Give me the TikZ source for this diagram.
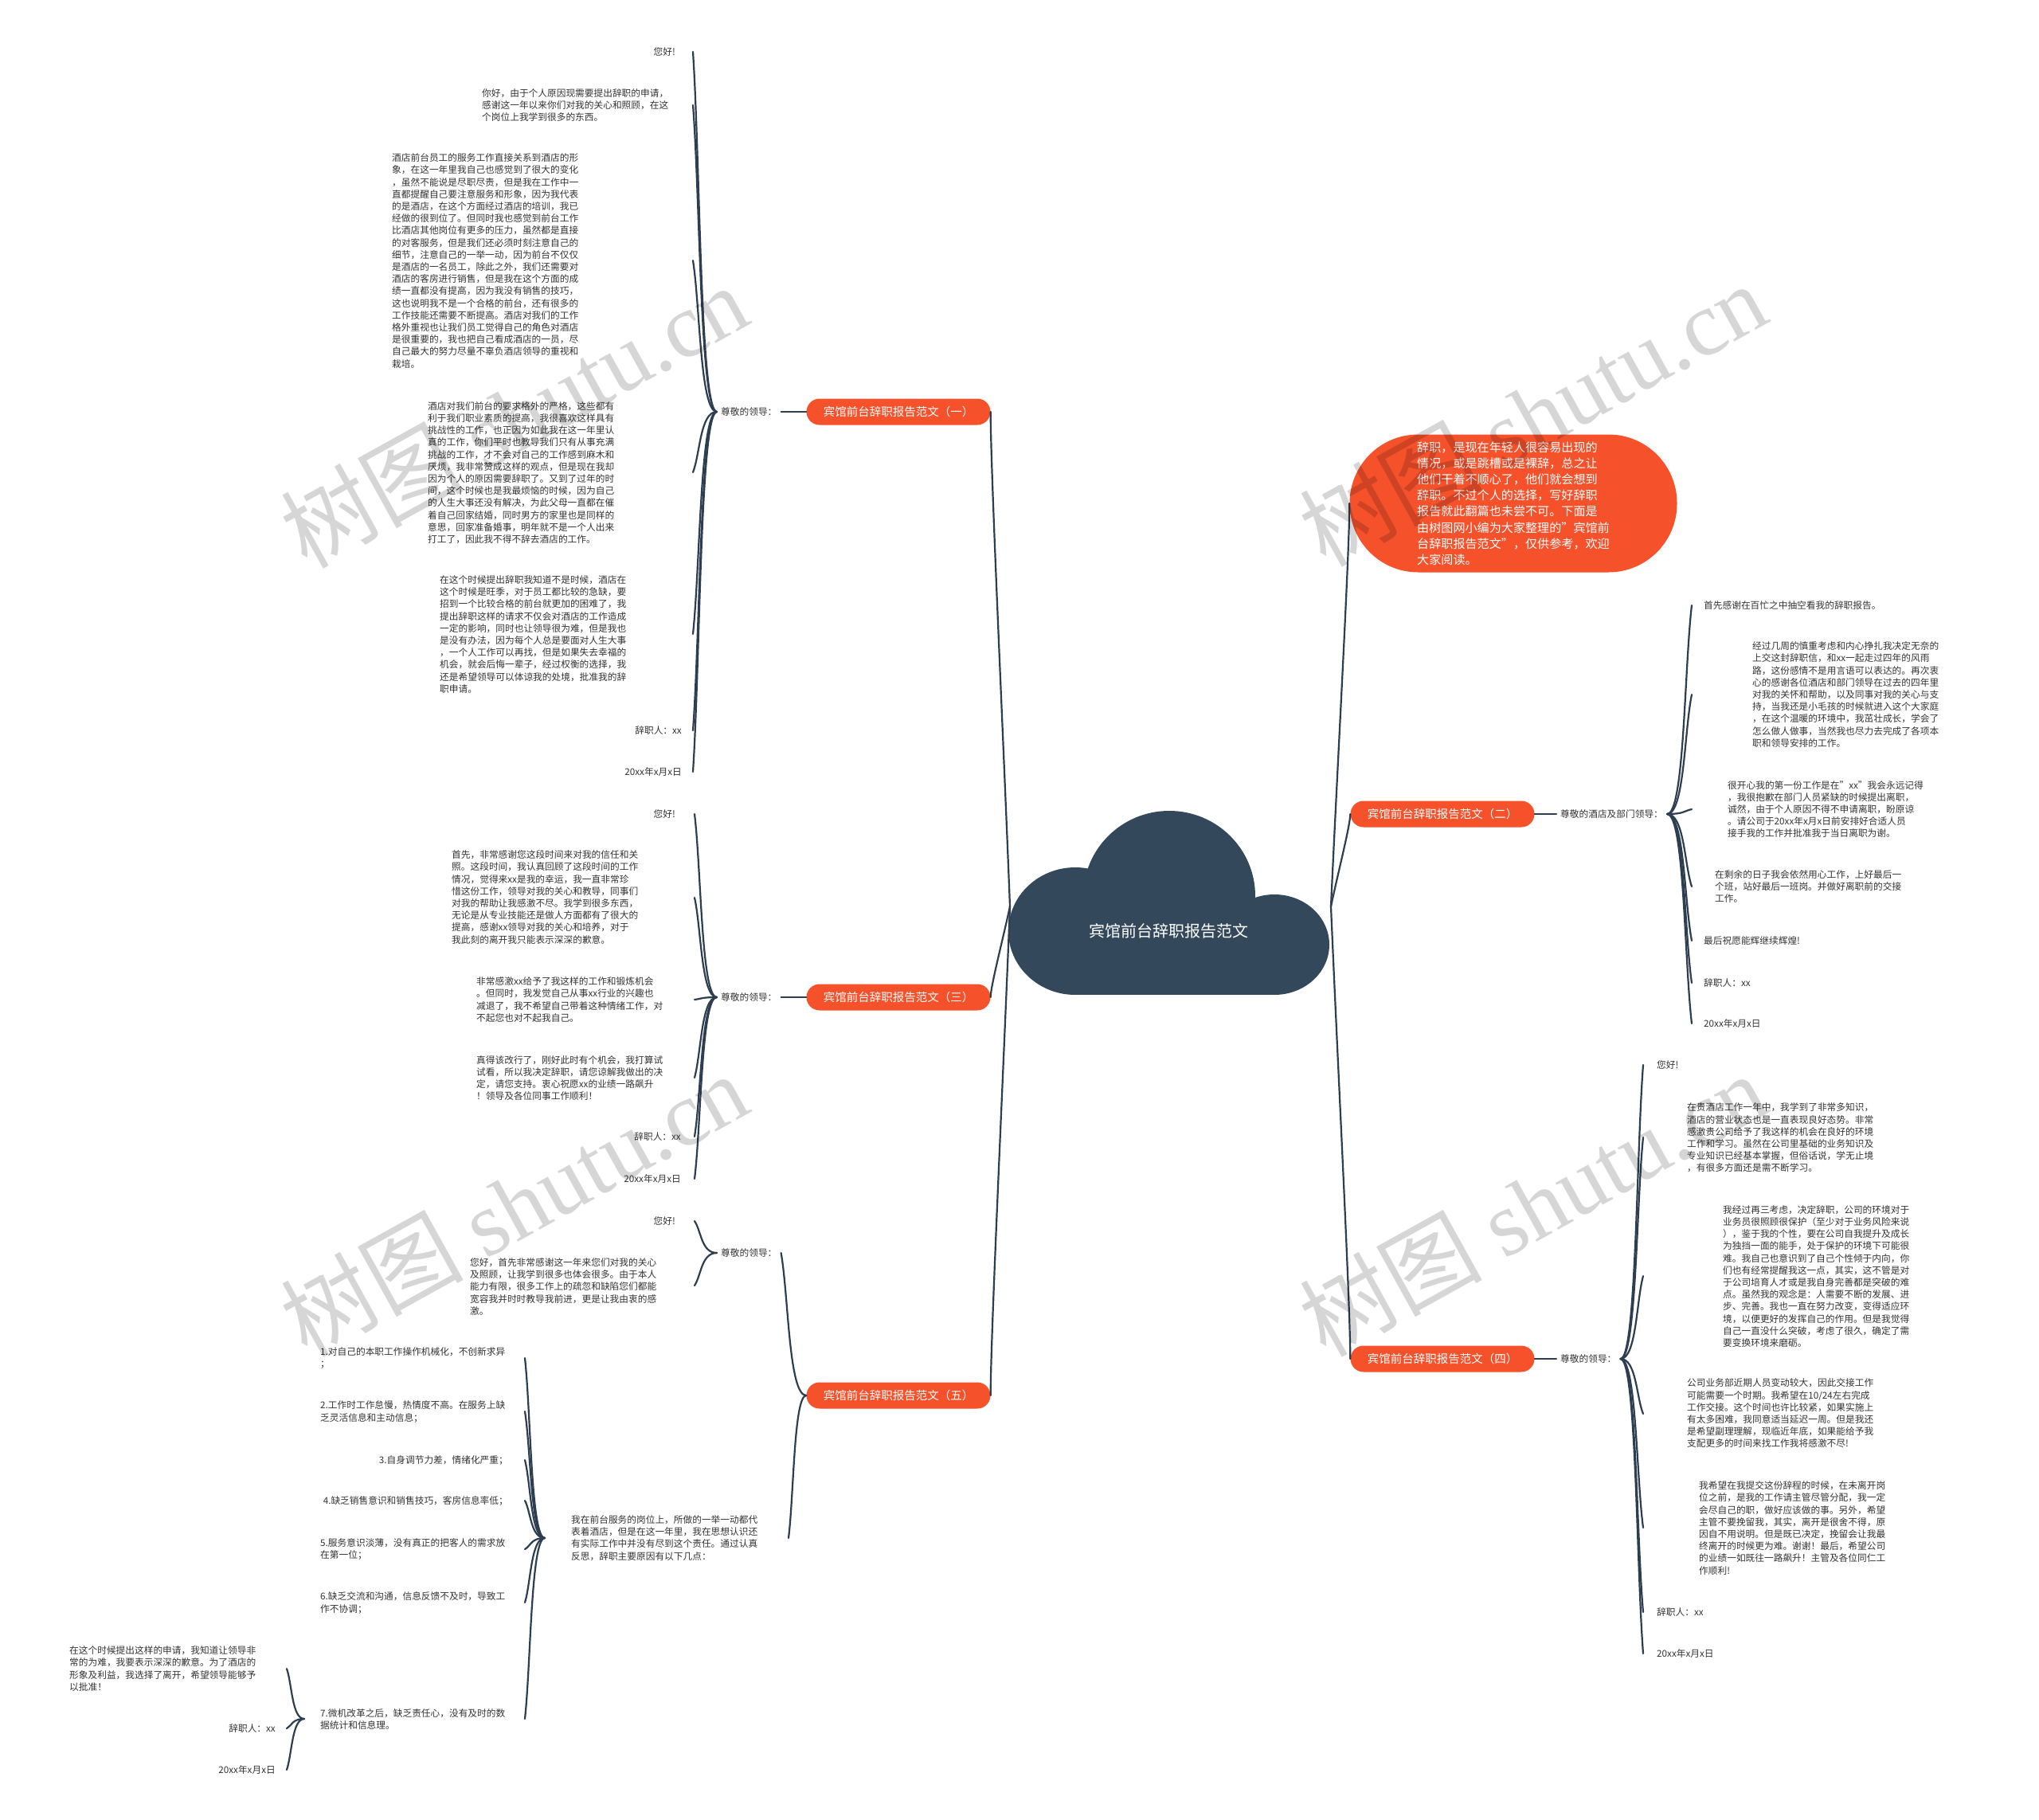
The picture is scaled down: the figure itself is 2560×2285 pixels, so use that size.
\documentclass[tikz,border=0pt]{standalone}
\usepackage{fontspec}
\setmainfont{Noto Sans CJK SC}
\newfontfamily\wmserif{Liberation Serif}
\usetikzlibrary{calc}
\definecolor{orng}{HTML}{F5512B}
\definecolor{cloudc}{HTML}{34485C}
\definecolor{linec}{HTML}{2C3E50}
\definecolor{txtc}{HTML}{333333}
\newcommand\mmlink[2]{\draw[conn] (#1) .. controls ($(#1)!0.7!(#2|-#1)$) and ($(#2)!0.3!(#1)$) .. (#2);}
\newcommand\mmroot[2]{\draw[conn] (#1) .. controls ($(#1)!0.35!(#2)$) and ($(#2)!0.12!(#2|-#1)$) .. (#2);}
\tikzset{
  conn/.style={draw=linec, line width=2.2pt, line cap=round},
  br/.style={fill=orng, text=white, rounded corners=16.5pt, minimum width=231pt, minimum height=33pt, inner sep=0pt, font=\fontsize{14.5}{17}\selectfont},
  lbl/.style={text=txtc, inner sep=5pt, font=\fontsize{11.7}{15.2}\selectfont},
  txt/.style={text=txtc, inner sep=0pt, align=left, font=\fontsize{11.7}{15.2}\selectfont},
  wm/.style={text=black, text opacity=0.16, rotate=29, inner sep=0pt, font=\fontsize{115}{115}\selectfont},
}
\begin{document}
\begin{tikzpicture}[x=1pt,y=-1pt]
\useasboundingbox (0,0) rectangle (2560,2285);
\fill[white] (0,0) rectangle (2560,2285);

% ---- central cloud
\fill[cloudc] (1468,1125) ellipse [x radius=108pt, y radius=107pt];
\fill[cloudc] (1350,1169) ellipse [x radius=84pt, y radius=80pt];
\fill[cloudc] (1600,1186) ellipse [x radius=69pt, y radius=63pt];
\fill[cloudc] (1350,1130) rectangle (1600,1249);
\node[text=white, font=\fontsize{20}{24}\selectfont] (root) at (1467,1169) {宾馆前台辞职报告范文};
\coordinate (rootL) at (1268,1138);
\coordinate (rootR) at (1671,1138);

% ---- main branches
\node[br] (b1) at (1128,517) {宾馆前台辞职报告范文（一）};
\node[br] (b3) at (1128,1252) {宾馆前台辞职报告范文（三）};
\node[br] (b5) at (1128,1752) {宾馆前台辞职报告范文（五）};
\node[br] (b2) at (1811,1022) {宾馆前台辞职报告范文（二）};
\node[br] (b4) at (1811,1706) {宾馆前台辞职报告范文（四）};
\node[fill=orng, text=white, rounded corners=86pt, minimum width=411pt, minimum height=173pt, inner sep=0pt, align=left, font=\fontsize{15.1}{20.2}\selectfont] (intro) at (1900,632)
{辞职，是现在年轻人很容易出现的\\情况，或是跳槽或是裸辞，总之让\\他们干着不顺心了，他们就会想到\\辞职。不过个人的选择，写好辞职\\报告就此翻篇也未尝不可。下面是\\由树图网小编为大家整理的"宾馆前\\台辞职报告范文"，仅供参考，欢迎\\大家阅读。};

\mmroot{rootL}{b1.east}
\mmroot{rootL}{b3.east}
\mmroot{rootL}{b5.east}
\mmroot{rootR}{intro.west}
\mmroot{rootR}{b2.west}
\mmroot{rootR}{b4.west}

% ---- branch 1
\node[lbl, anchor=west] (l1) at (900,517) {尊敬的领导：};
\mmlink{b1.west}{l1.east}
\node[txt, anchor=east] (t1a) at (848,65) {您好!};
\node[txt, anchor=west] (t1b) at (605,132) {你好，由于个人原因现需要提出辞职的申请，\\感谢这一年以来你们对我的关心和照顾，在这\\个岗位上我学到很多的东西。};
\node[txt, anchor=west] (t1c) at (492,327.5) {酒店前台员工的服务工作直接关系到酒店的形\\象，在这一年里我自己也感觉到了很大的变化\\，虽然不能说是尽职尽责，但是我在工作中一\\直都提醒自己要注意服务和形象，因为我代表\\的是酒店，在这个方面经过酒店的培训，我已\\经做的很到位了。但同时我也感觉到前台工作\\比酒店其他岗位有更多的压力，虽然都是直接\\的对客服务，但是我们还必须时刻注意自己的\\细节，注意自己的一举一动，因为前台不仅仅\\是酒店的一名员工，除此之外，我们还需要对\\酒店的客房进行销售，但是我在这个方面的成\\绩一直都没有提高，因为我没有销售的技巧，\\这也说明我不是一个合格的前台，还有很多的\\工作技能还需要不断提高。酒店对我们的工作\\格外重视也让我们员工觉得自己的角色对酒店\\是很重要的，我也把自己看成酒店的一员，尽\\自己最大的努力尽量不辜负酒店领导的重视和\\栽培。};
\node[txt, anchor=west] (t1d) at (537,593.5) {酒店对我们前台的要求格外的严格，这些都有\\利于我们职业素质的提高，我很喜欢这样具有\\挑战性的工作，也正因为如此我在这一年里认\\真的工作，你们平时也教导我们只有从事充满\\挑战的工作，才不会对自己的工作感到麻木和\\厌烦，我非常赞成这样的观点，但是现在我却\\因为个人的原因需要辞职了。又到了过年的时\\间，这个时候也是我最烦恼的时候，因为自己\\的人生大事还没有解决，为此父母一直都在催\\着自己回家结婚，同时男方的家里也是同样的\\意思，回家准备婚事，明年就不是一个人出来\\打工了，因此我不得不辞去酒店的工作。};
\node[txt, anchor=west] (t1e) at (552,796.5) {在这个时候提出辞职我知道不是时候，酒店在\\这个时候是旺季，对于员工都比较的急缺，要\\招到一个比较合格的前台就更加的困难了，我\\提出辞职这样的请求不仅会对酒店的工作造成\\一定的影响，同时也让领导很为难，但是我也\\是没有办法，因为每个人总是要面对人生大事\\，一个人工作可以再找，但是如果失去幸福的\\机会，就会后悔一辈子，经过权衡的选择，我\\还是希望领导可以体谅我的处境，批准我的辞\\职申请。};
\node[txt, anchor=east] (t1f) at (856,917) {辞职人：xx};
\node[txt, anchor=east] (t1g) at (856,969) {20xx年x月x日};
\coordinate (e1a) at (870,65);
\coordinate (e1b) at (870,132);
\coordinate (e1c) at (870,327);
\coordinate (e1d) at (870,593);
\coordinate (e1e) at (870,796);
\coordinate (e1f) at (870,917);
\coordinate (e1g) at (870,969);
\foreach \e in {e1a,e1b,e1c,e1d,e1e,e1f,e1g} {\mmlink{l1.west}{\e}}

% ---- branch 3
\node[lbl, anchor=west] (l3) at (900,1252) {尊敬的领导：};
\mmlink{b3.west}{l3.east}
\node[txt, anchor=east] (t3a) at (848,1022) {您好!};
\node[txt, anchor=west] (t3b) at (567,1126.5) {首先，非常感谢您这段时间来对我的信任和关\\照。这段时间，我认真回顾了这段时间的工作\\情况，觉得来xx是我的幸运，我一直非常珍\\惜这份工作，领导对我的关心和教导，同事们\\对我的帮助让我感激不尽。我学到很多东西，\\无论是从专业技能还是做人方面都有了很大的\\提高，感谢xx领导对我的关心和培养，对于\\我此刻的离开我只能表示深深的歉意。};
\node[txt, anchor=west] (t3c) at (598,1255) {非常感激xx给予了我这样的工作和锻炼机会\\。但同时，我发觉自己从事xx行业的兴趣也\\减退了，我不希望自己带着这种情绪工作，对\\不起您也对不起我自己。};
\node[txt, anchor=west] (t3d) at (598,1353.5) {真得该改行了，刚好此时有个机会，我打算试\\试看，所以我决定辞职，请您谅解我做出的决\\定，请您支持。衷心祝愿xx的业绩一路飙升\\！领导及各位同事工作顺利！};
\node[txt, anchor=east] (t3f) at (855,1427) {辞职人：xx};
\node[txt, anchor=east] (t3g) at (855,1480) {20xx年x月x日};
\coordinate (e3a) at (872,1022);
\coordinate (e3b) at (872,1127);
\coordinate (e3c) at (872,1255);
\coordinate (e3d) at (872,1353);
\coordinate (e3f) at (872,1427);
\coordinate (e3g) at (872,1480);
\foreach \e in {e3a,e3b,e3c,e3d,e3f,e3g} {\mmlink{l3.west}{\e}}

% ---- branch 5
\node[lbl, anchor=west] (l5) at (900,1573) {尊敬的领导：};
\node[txt, anchor=east] (t5a) at (848,1533) {您好!};
\node[txt, anchor=west] (t5b) at (590,1615.5) {您好，首先非常感谢这一年来您们对我的关心\\及照顾，让我学到很多也体会很多。由于本人\\能力有限，很多工作上的疏忽和缺陷您们都能\\宽容我并时时教导我前进，更是让我由衷的感\\激。};
\coordinate (e5a) at (872,1533);
\coordinate (e5b) at (872,1614);
\mmlink{l5.west}{e5a}
\mmlink{l5.west}{e5b}
\node[txt, anchor=west] (p5) at (717,1931) {我在前台服务的岗位上，所做的一举一动都代\\表着酒店，但是在这一年里，我在思想认识还\\有实际工作中并没有尽到这个责任。通过认真\\反思，辞职主要原因有以下几点：};
\coordinate (p5e) at (990,1931);
\coordinate (p5s) at (684,1931);
\mmlink{b5.west}{l5.east}
\mmlink{b5.west}{p5e}
\node[txt, anchor=west] (i1) at (402,1705) {1.对自己的本职工作操作机械化，不创新求异\\；};
\node[txt, anchor=west] (i2) at (402,1772.5) {2.工作时工作怠慢，热情度不高。在服务上缺\\乏灵活信息和主动信息；};
\node[txt, anchor=east] (i3) at (638,1833) {3.自身调节力差，情绪化严重；};
\node[txt, anchor=east] (i4) at (638,1884) {4.缺乏销售意识和销售技巧，客房信息率低；};
\node[txt, anchor=west] (i5) at (402,1945) {5.服务意识淡薄，没有真正的把客人的需求放\\在第一位；};
\node[txt, anchor=west] (i6) at (402,2012.5) {6.缺乏交流和沟通，信息反馈不及时，导致工\\作不协调；};
\node[txt, anchor=west] (i7) at (402,2158.5) {7.微机改革之后，缺乏责任心，没有及时的数\\据统计和信息理。};
\coordinate (ei1) at (659,1705);
\coordinate (ei2) at (659,1772);
\coordinate (ei3) at (659,1833);
\coordinate (ei4) at (659,1884);
\coordinate (ei5) at (659,1945);
\coordinate (ei6) at (659,2012);
\coordinate (ei7) at (659,2158);
\foreach \e in {ei1,ei2,ei3,ei4,ei5,ei6,ei7} {\mmlink{p5s}{\e}}
\node[txt, anchor=west] (q7a) at (87,2095) {在这个时候提出这样的申请，我知道让领导非\\常的为难，我要表示深深的歉意。为了酒店的\\形象及利益，我选择了离开，希望领导能够予\\以批准！};
\node[txt, anchor=east] (q7b) at (346,2170) {辞职人：xx};
\node[txt, anchor=east] (q7c) at (346,2222) {20xx年x月x日};
\coordinate (i7s) at (382,2158);
\coordinate (eqa) at (360,2095);
\coordinate (eqb) at (360,2170);
\coordinate (eqc) at (360,2222);
\foreach \e in {eqa,eqb,eqc} {\mmlink{i7s}{\e}}

% ---- branch 2
\node[lbl, anchor=west] (l2) at (1954,1022) {尊敬的酒店及部门领导：};
\mmlink{b2.east}{l2.west}
\node[txt, anchor=west] (r2a) at (2139,760) {首先感谢在百忙之中抽空看我的辞职报告。};
\node[txt, anchor=west] (r2b) at (2200,872) {经过几周的慎重考虑和内心挣扎我决定无奈的\\上交这封辞职信，和xx一起走过四年的风雨\\路，这份感情不是用言语可以表达的。再次衷\\心的感谢各位酒店和部门领导在过去的四年里\\对我的关怀和帮助，以及同事对我的关心与支\\持，当我还是小毛孩的时候就进入这个大家庭\\，在这个温暖的环境中，我茁壮成长，学会了\\怎么做人做事，当然我也尽力去完成了各项本\\职和领导安排的工作。};
\node[txt, anchor=west] (r2c) at (2169,1016) {很开心我的第一份工作是在"xx"我会永远记得\\，我很抱歉在部门人员紧缺的时候提出离职，\\诚然，由于个人原因不得不申请离职，盼原谅\\。请公司于20xx年x月x日前安排好合适人员\\接手我的工作并批准我于当日离职为谢。};
\node[txt, anchor=west] (r2d) at (2153,1113) {在剩余的日子我会依然用心工作，上好最后一\\个班，站好最后一班岗。并做好离职前的交接\\工作。};
\node[txt, anchor=west] (r2e) at (2139,1181) {最后祝愿能辉继续辉煌!};
\node[txt, anchor=west] (r2f) at (2139,1234) {辞职人：xx};
\node[txt, anchor=west] (r2g) at (2139,1285) {20xx年x月x日};
\coordinate (e2a) at (2124,760);
\coordinate (e2b) at (2124,872);
\coordinate (e2c) at (2124,1016);
\coordinate (e2d) at (2124,1113);
\coordinate (e2e) at (2124,1181);
\coordinate (e2f) at (2124,1234);
\coordinate (e2g) at (2124,1285);
\foreach \e in {e2a,e2b,e2c,e2d,e2e,e2f,e2g} {\mmlink{l2.east}{\e}}

% ---- branch 4
\node[lbl, anchor=west] (l4) at (1954,1706) {尊敬的领导：};
\mmlink{b4.east}{l4.west}
\node[txt, anchor=west] (r4a) at (2080,1337) {您好!};
\node[txt, anchor=west] (r4b) at (2118,1428.5) {在贵酒店工作一年中，我学到了非常多知识，\\酒店的营业状态也是一直表现良好态势。非常\\感激贵公司给予了我这样的机会在良好的环境\\工作和学习。虽然在公司里基础的业务知识及\\专业知识已经基本掌握，但俗话说，学无止境\\，有很多方面还是需不断学习。};
\node[txt, anchor=west] (r4c) at (2163,1602.5) {我经过再三考虑，决定辞职，公司的环境对于\\业务员很照顾很保护（至少对于业务风险来说\\），鉴于我的个性，要在公司自我提升及成长\\为独挡一面的能手，处于保护的环境下可能很\\难。我自己也意识到了自己个性倾于内向，你\\们也有经常提醒我这一点，其实，这不管是对\\于公司培育人才或是我自身完善都是突破的难\\点。虽然我的观念是：人需要不断的发展、进\\步、完善。我也一直在努力改变，变得适应环\\境，以便更好的发挥自己的作用。但是我觉得\\自己一直没什么突破，考虑了很久，确定了需\\要变换环境来磨砺。};
\node[txt, anchor=west] (r4d) at (2118,1774.5) {公司业务部近期人员变动较大，因此交接工作\\可能需要一个时期。我希望在10/24左右完成\\工作交接。这个时间也许比较紧，如果实施上\\有太多困难，我同意适当延迟一周。但是我还\\是希望副理理解，现临近年底，如果能给予我\\支配更多的时间来找工作我将感激不尽!};
\node[txt, anchor=west] (r4e) at (2133,1918.5) {我希望在我提交这份辞程的时候，在未离开岗\\位之前，是我的工作请主管尽管分配，我一定\\会尽自己的职，做好应该做的事。另外，希望\\主管不要挽留我，其实，离开是很舍不得，原\\因自不用说明。但是既已决定，挽留会让我最\\终离开的时候更为难。谢谢！最后，希望公司\\的业绩一如既往一路飙升！主管及各位同仁工\\作顺利!};
\node[txt, anchor=west] (r4f) at (2080,2024) {辞职人：xx};
\node[txt, anchor=west] (r4g) at (2080,2076) {20xx年x月x日};
\coordinate (e4a) at (2063,1337);
\coordinate (e4b) at (2063,1428);
\coordinate (e4c) at (2063,1602);
\coordinate (e4d) at (2063,1775);
\coordinate (e4e) at (2063,1918);
\coordinate (e4f) at (2063,2024);
\coordinate (e4g) at (2063,2076);
\foreach \e in {e4a,e4b,e4c,e4d,e4e,e4f,e4g} {\mmlink{l4.east}{\e}}

% ---- watermarks
\node[wm] (wm1) at (645,522) {树图 {\wmserif shutu.cn}};
\node[wm] (wm2) at (1924,520) {树图 {\wmserif shutu.cn}};
\node[wm] (wm3) at (645,1512) {树图 {\wmserif shutu.cn}};
\node[wm] (wm4) at (1924,1512) {树图 {\wmserif shutu.cn}};
\end{tikzpicture}
\end{document}
